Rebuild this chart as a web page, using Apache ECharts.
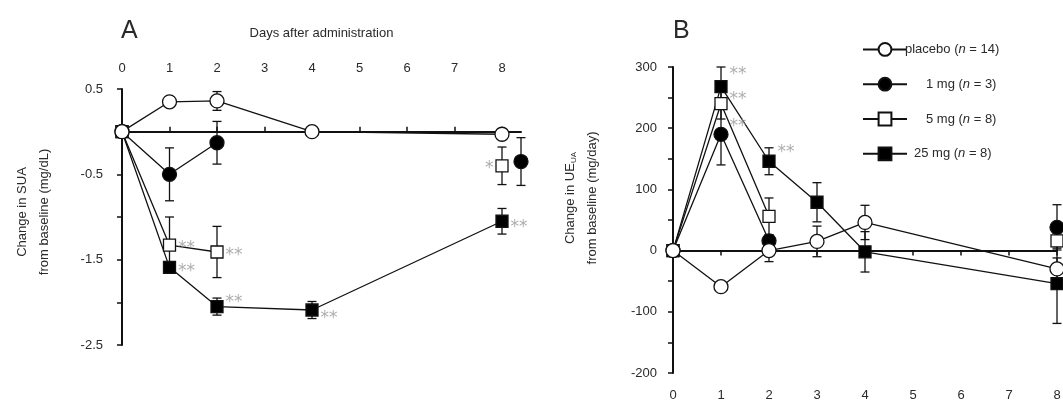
<!DOCTYPE html>
<html>
<head>
<meta charset="utf-8">
<script src="https://cdn.jsdelivr.net/npm/echarts@6/dist/echarts.min.js"></script>
<style>
  html, body { margin: 0; padding: 0; background: #fff; }
  #chart { width: 1063px; height: 401px; }
</style>
</head>
<body>
<div id="chart"></div>
<script>
// ---- groups ----
const groups = ['placebo', '1 mg', '5 mg', '25 mg'];
const groupN = [14, 3, 8, 8];

// ---- Panel A: change in serum uric acid (mg/dL) ----
const daysA = [0, 1, 2, 4, 8];
const suaPlacebo = [0, 0.35, 0.36, 0, -0.03];
const suaPlaceboErr = [0, 0.06, 0.11, 0.03, 0.06];
const sua1mg = [0, -0.5, -0.13, null, -0.35];
const sua1mgErr = [0, 0.31, 0.25, null, 0.28];
const sua5mg = [0, -1.33, -1.41, null, -0.4];
const sua5mgErr = [0, 0.33, 0.3, null, 0.22];
const sua25mg = [0, -1.59, -2.05, -2.09, -1.05];
const sua25mgErr = [0, 0.05, 0.1, 0.1, 0.15];
const suaStars5mg = ['', '**', '**', '', '*'];
const suaStars25mg = ['', '**', '**', '**', '**'];
const dayTicksA = [0, 1, 2, 3, 4, 5, 6, 7, 8];
const suaTickLabels = [0.5, -0.5, -1.5, -2.5];

// ---- Panel B: change in urinary excretion of uric acid (mg/day) ----
const daysB = [0, 1, 2, 3, 4, 8];
const uePlacebo = [0, -59, 0, 15, 46, -30];
const uePlaceboErr = [0, 8, 18, 25, 28, 18];
const ue1mg = [0, 190, 16, null, null, 38];
const ue1mgErr = [0, 50, 10, null, null, 37];
const ue5mg = [0, 240, 56, null, null, 16];
const ue5mgErr = [0, 25, 30, null, null, 12];
const ue25mg = [0, 268, 146, 79, -2, -54];
const ue25mgErr = [0, 32, 22, 32, 33, 65];
const ueStars1mg = ['', '**', '', '', '', ''];
const ueStars5mg = ['', '**', '', '', '', ''];
const ueStars25mg = ['', '**', '**', '', '', ''];
const dayTicksB = [0, 1, 2, 3, 4, 5, 6, 7, 8];
const ueTickLabels = [300, 200, 100, 0, -100, -200];

// ---- styling ----
const FONT = 'Liberation Sans, Arial, sans-serif';
const TXT = '#2a2a2a';
const INK = '#111';
const markers = {
  'placebo': { symbol: 'circle', size: 14, fill: '#fff' },
  '1 mg':    { symbol: 'circle', size: 14, fill: '#000' },
  '5 mg':    { symbol: 'rect',   size: 12, fill: '#fff' },
  '25 mg':   { symbol: 'rect',   size: 12, fill: '#000' }
};
// 1 mg day-8 point in panel A is drawn slightly to the right of the others
const dodgeA = { '1 mg': 0.4 };
// where the significance marks sit relative to their point
const starPlace = {
  'A|5 mg|1':  { pos: 'right', dy: 3 },
  'A|5 mg|2':  { pos: 'right', dy: 4 },
  'A|5 mg|8':  { pos: 'left',  dy: 3 },
  'A|25 mg|1': { pos: 'right', dy: 4 },
  'A|25 mg|2': { pos: 'right', dy: -4 },
  'A|25 mg|4': { pos: 'right', dy: 9 },
  'A|25 mg|8': { pos: 'right', dy: 6 },
  'B|1 mg|1':  { pos: 'right', dy: -8 },
  'B|5 mg|1':  { pos: 'right', dy: -4 },
  'B|25 mg|1': { pos: 'right', dy: -12 },
  'B|25 mg|2': { pos: 'right', dy: -9 }
};

function pts(days, vals, name, dodge) {
  return days.map((d, i) => {
    const x = (dodge && dodge[name] && d === 8) ? d + dodge[name] : d;
    return [x, vals[i] === null ? '-' : vals[i]];
  });
}
function errs(days, vals, sd, name, dodge) {
  const out = [];
  days.forEach((d, i) => {
    if (vals[i] === null || !sd[i]) return;
    const x = (dodge && dodge[name] && d === 8) ? d + dodge[name] : d;
    out.push([x, vals[i] - sd[i], vals[i] + sd[i]]);
  });
  return out;
}
function stars(panel, days, vals, marks, name) {
  const out = [];
  days.forEach((d, i) => {
    if (!marks[i]) return;
    const p = starPlace[panel + '|' + name + '|' + d] || { pos: 'right', dy: 4 };
    out.push({
      value: [d, vals[i]],
      label: { show: true, formatter: marks[i], position: p.pos, distance: 8, offset: [0, p.dy] }
    });
  });
  return out;
}

function errorBar(params, api) {
  const x = api.value(0);
  const top = api.coord([x, api.value(2)]);
  const bot = api.coord([x, api.value(1)]);
  const w = 4.5;
  const st = { stroke: INK, lineWidth: 1.3 };
  return {
    type: 'group',
    children: [
      { type: 'line', shape: { x1: top[0], y1: top[1], x2: bot[0], y2: bot[1] }, style: st },
      { type: 'line', shape: { x1: top[0] - w, y1: top[1], x2: top[0] + w, y2: top[1] }, style: st },
      { type: 'line', shape: { x1: bot[0] - w, y1: bot[1], x2: bot[0] + w, y2: bot[1] }, style: st }
    ]
  };
}

function lineSeries(name, data, xi, yi) {
  const m = markers[name];
  return {
    name, type: 'line', xAxisIndex: xi, yAxisIndex: yi, data,
    symbol: m.symbol, symbolSize: m.size, showAllSymbol: true, clip: false,
    connectNulls: false, z: 3,
    lineStyle: { color: INK, width: 1.3 },
    itemStyle: { color: m.fill, borderColor: INK, borderWidth: 1.3 },
    emphasis: { disabled: true }, animation: false
  };
}
function errSeries(data, xi, yi) {
  return {
    type: 'custom', xAxisIndex: xi, yAxisIndex: yi, data, renderItem: errorBar,
    encode: { x: 0, y: [1, 2] }, clip: false, z: 2, silent: true, animation: false
  };
}
function starSeries(data, xi, yi) {
  return {
    type: 'scatter', xAxisIndex: xi, yAxisIndex: yi, data, symbolSize: 1,
    itemStyle: { color: 'rgba(0,0,0,0)' }, clip: false, silent: true, z: 4, animation: false,
    label: { color: '#999', fontSize: 17, fontFamily: 'DejaVu Sans' }
  };
}

const seriesA = [
  [groups[0], suaPlacebo, suaPlaceboErr],
  [groups[1], sua1mg, sua1mgErr],
  [groups[2], sua5mg, sua5mgErr],
  [groups[3], sua25mg, sua25mgErr]
];
const seriesB = [
  [groups[0], uePlacebo, uePlaceboErr],
  [groups[1], ue1mg, ue1mgErr],
  [groups[2], ue5mg, ue5mgErr],
  [groups[3], ue25mg, ue25mgErr]
];

const series = [];
seriesA.forEach(([n, v, e]) => series.push(errSeries(errs(daysA, v, e, n, dodgeA), 1, 0)));
seriesB.forEach(([n, v, e]) => series.push(errSeries(errs(daysB, v, e, n), 3, 1)));
// placebo drawn last so its open circle sits on top at the shared origin
seriesA.slice().reverse().forEach(([n, v]) => series.push(lineSeries(n, pts(daysA, v, n, dodgeA), 1, 0)));
seriesB.slice().reverse().forEach(([n, v]) => series.push(lineSeries(n, pts(daysB, v, n), 3, 1)));
series.push(starSeries([
  ...stars('A', daysA, sua5mg, suaStars5mg, '5 mg'),
  ...stars('A', daysA, sua25mg, suaStars25mg, '25 mg')
], 1, 0));
series.push(starSeries([
  ...stars('B', daysB, ue1mg, ueStars1mg, '1 mg'),
  ...stars('B', daysB, ue5mg, ueStars5mg, '5 mg'),
  ...stars('B', daysB, ue25mg, ueStars25mg, '25 mg')
], 3, 1));

const labelStyle = { color: TXT, fontSize: 13, fontFamily: FONT };
const spacer = { 'placebo': 0, '1 mg': 21, '5 mg': 21, '25 mg': 9 };

const option = {
  animation: false,
  backgroundColor: '#fff',
  title: [
    { text: 'A', left: 116, top: 14, textStyle: { fontSize: 25, fontWeight: 'normal', color: TXT, fontFamily: FONT } },
    { text: 'B', left: 668, top: 14, textStyle: { fontSize: 25, fontWeight: 'normal', color: TXT, fontFamily: FONT } }
  ],
  legend: {
    orient: 'vertical', left: 857, top: 37,
    itemWidth: 44, itemHeight: 16, itemGap: 20,
    data: groups,
    selectedMode: false,
    formatter: name => {
      const n = groupN[groups.indexOf(name)];
      const pad = spacer[name] ? '{s' + spacer[name] + '| }' : '';
      return pad + name + ' ({i|n} = ' + n + ')';
    },
    textStyle: {
      color: TXT, fontSize: 13, fontFamily: FONT, padding: [0, 0, 0, -7],
      rich: {
        i: { fontStyle: 'italic', fontSize: 13, fontFamily: FONT, color: TXT },
        s21: { width: 21 },
        s9: { width: 9 }
      }
    }
  },
  grid: [
    { left: 122, top: 89, width: 399, height: 256, containLabel: false, outerBoundsMode: 'none' },
    { left: 673, top: 67, width: 384, height: 306, containLabel: false, outerBoundsMode: 'none' }
  ],
  xAxis: [
    { // panel A day labels along the top
      gridIndex: 0, type: 'value', position: 'top', min: 0, max: 8.4,
      axisLine: { show: false, onZero: false }, axisTick: { show: false }, splitLine: { show: false },
      axisLabel: { ...labelStyle, margin: 14, customValues: dayTicksA },
      name: 'Days after administration', nameLocation: 'middle', nameGap: 49,
      nameTextStyle: { ...labelStyle }
    },
    { // panel A baseline through zero
      gridIndex: 0, type: 'value', position: 'bottom', min: 0, max: 8.4,
      axisLine: { onZero: true, lineStyle: { color: INK, width: 2 } },
      axisTick: { inside: true, length: 5, customValues: dayTicksA.slice(1), lineStyle: { color: INK, width: 1.5 } },
      axisLabel: { show: false }, splitLine: { show: false }
    },
    { // panel B day labels along the bottom
      gridIndex: 1, type: 'value', position: 'bottom', min: 0, max: 8,
      axisLine: { show: false, onZero: false }, axisTick: { show: false }, splitLine: { show: false },
      axisLabel: { ...labelStyle, margin: 16, customValues: dayTicksB },
      name: 'Days after administration', nameLocation: 'middle', nameGap: -16,
      nameTextStyle: { ...labelStyle }
    },
    { // panel B baseline through zero
      gridIndex: 1, type: 'value', position: 'bottom', min: 0, max: 8,
      axisLine: { onZero: true, lineStyle: { color: INK, width: 2 } },
      axisTick: { inside: false, length: 5, customValues: dayTicksB.slice(1), lineStyle: { color: INK, width: 1.5 } },
      axisLabel: { show: false }, splitLine: { show: false }
    }
  ],
  yAxis: [
    {
      gridIndex: 0, type: 'value', min: -2.5, max: 0.5, interval: 0.5,
      axisLine: { show: true, onZero: false, lineStyle: { color: INK, width: 2 } },
      axisTick: { show: true, length: 5, lineStyle: { color: INK, width: 1.5 } },
      axisLabel: { ...labelStyle, margin: 19, customValues: suaTickLabels },
      splitLine: { show: false },
      name: 'Change in SUA\nfrom baseline (mg/dL)', nameLocation: 'middle', nameRotate: 90, nameGap: 67,
      nameTextStyle: { ...labelStyle, lineHeight: 22, padding: [0, 0, 0, 10] }
    },
    {
      gridIndex: 1, type: 'value', min: -200, max: 300, interval: 50,
      axisLine: { show: true, onZero: false, lineStyle: { color: INK, width: 2 } },
      axisTick: { show: true, length: 5, lineStyle: { color: INK, width: 1.5 } },
      axisLabel: { ...labelStyle, margin: 16, customValues: ueTickLabels },
      splitLine: { show: false },
      name: '{a|Change in UE}{s|UA}\n{a|from baseline (mg/day)}', nameLocation: 'middle', nameRotate: 90, nameGap: 70,
      nameTextStyle: {
        ...labelStyle, lineHeight: 22, padding: [0, 0, 0, 44],
        rich: {
          a: { fontSize: 13, fontFamily: FONT, color: TXT },
          s: { fontSize: 8, fontFamily: FONT, color: TXT, padding: [7, 0, 0, 0] }
        }
      }
    }
  ],
  series
};

const chart = echarts.init(document.getElementById('chart'), null, { renderer: 'canvas' });
chart.setOption(option);
</script>
</body>
</html>
